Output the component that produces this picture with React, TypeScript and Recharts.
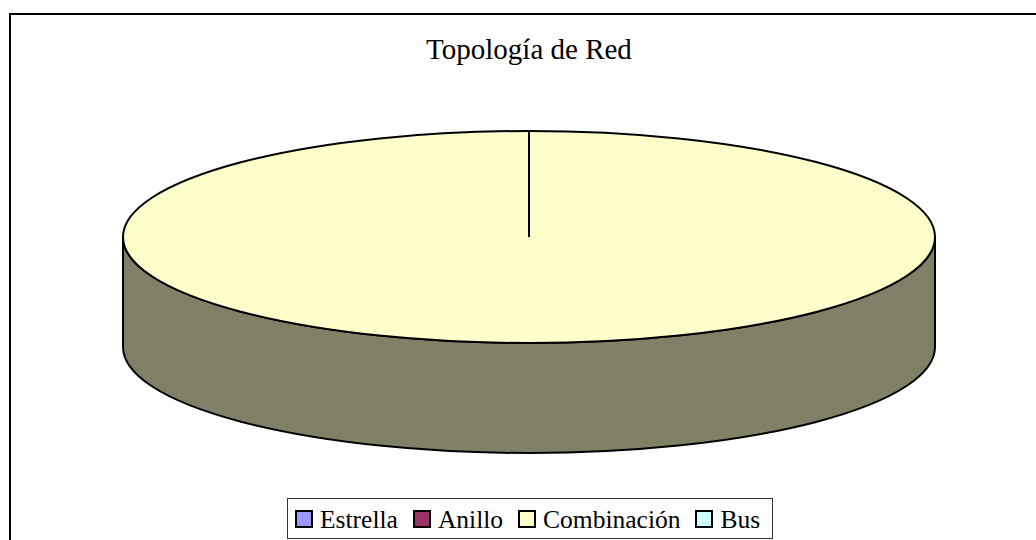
import { PieChart, Pie, Cell, Legend, Tooltip } from 'recharts';

const CATEGORIES = ['Estrella', 'Anillo', 'Combinación', 'Bus'];
const VALUES = [0, 0, 100, 0];
const COLORS = ['#9999ff', '#993366', '#ffffcc', '#ccffff'];

const TITLE = 'Topología de Red';

const data = CATEGORIES.map((name, i) => ({ name, value: VALUES[i] }));

// flattening of the pie and height of its side wall
const TILT = 106 / 406;
const DEPTH = 110;
const FONT = '"Liberation Serif", "Times New Roman", serif';

const darken = (hex: string) => {
  const n = parseInt(hex.slice(1), 16);
  const ch = [(n >> 16) & 255, (n >> 8) & 255, n & 255].map((c) => Math.round(c * 0.5));
  return '#' + ch.map((c) => c.toString(16).padStart(2, '0')).join('');
};

const Slice3D = (props: any) => {
  const { cx, cy, outerRadius, startAngle, endAngle, fill } = props;
  const sweep = Math.abs(endAngle - startAngle);
  if (!sweep || sweep < 0.01) return null;
  const rx = outerRadius;
  const ry = outerRadius * TILT;
  const pt = (deg: number, dy = 0) => {
    const r = (deg * Math.PI) / 180;
    return `${cx + rx * Math.cos(r)},${cy - ry * Math.sin(r) + dy}`;
  };

  // front part of the side wall (angles 180..360)
  const a0 = Math.min(startAngle, endAngle);
  const a1 = Math.max(startAngle, endAngle);
  const walls: string[] = [];
  for (let k = -2; k <= 1; k++) {
    const b0 = Math.max(a0, 180 + 360 * k);
    const b1 = Math.min(a1, 360 + 360 * k);
    if (b1 - b0 > 0.01) {
      walls.push(
        `M${pt(b0)} A${rx},${ry} 0 0 0 ${pt(b1)} L${pt(b1, DEPTH)} A${rx},${ry} 0 0 1 ${pt(b0, DEPTH)} Z`
      );
    }
  }

  const full = sweep >= 359.99;
  const large = sweep > 180 ? 1 : 0;
  const dir = endAngle < startAngle ? 1 : 0;

  return (
    <g>
      {walls.map((d, i) => (
        <path key={i} d={d} fill={darken(fill)} stroke="#000" strokeWidth={2} />
      ))}
      {full ? (
        <>
          <ellipse cx={cx} cy={cy} rx={rx} ry={ry} fill={fill} stroke="#000" strokeWidth={2} />
          <path d={`M${cx},${cy} L${pt(startAngle)}`} stroke="#000" strokeWidth={2} />
        </>
      ) : (
        <path
          d={`M${cx},${cy} L${pt(startAngle)} A${rx},${ry} 0 ${large} ${dir} ${pt(endAngle)} Z`}
          fill={fill}
          stroke="#000"
          strokeWidth={2}
        />
      )}
    </g>
  );
};

const renderLegend = ({ payload }: any) => {
  const items = [...(payload || [])].sort(
    (a: any, b: any) => CATEGORIES.indexOf(a.value) - CATEGORIES.indexOf(b.value)
  );
  return (
    <div
      style={{
        display: 'inline-flex',
        alignItems: 'center',
        boxSizing: 'border-box',
        height: 41,
        padding: '3px 12px 0 7px',
        border: '1px solid #333',
        background: '#fff',
        fontFamily: FONT,
        fontSize: 25.5,
        color: '#000',
        whiteSpace: 'nowrap',
      }}
    >
      {items.map((p: any, i: number) => (
        <span
          key={p.value}
          style={{ display: 'inline-flex', alignItems: 'center', marginRight: i < items.length - 1 ? 15 : 0 }}
        >
          <span
            style={{
              display: 'inline-block',
              width: 14,
              height: 14,
              border: '2px solid #000',
              background: p.color,
              marginRight: 7,
              marginTop: -3,
            }}
          />
          <span>{p.value}</span>
        </span>
      ))}
    </div>
  );
};

export default function App() {
  return (
    <div style={{ position: 'relative', width: 1036, height: 540, overflow: 'hidden', background: '#fff' }}>
      <style>{'body{margin:0}'}</style>
      <div
        style={{
          position: 'absolute',
          left: 9,
          top: 13,
          width: 1100,
          height: 600,
          border: '2px solid #000',
        }}
      />
      <div style={{ position: 'absolute', left: 0, top: 0 }}>
        <PieChart width={1036} height={540} margin={{ top: 0, right: 0, bottom: 0, left: 0 }}>
          <text x={529} y={59} textAnchor="middle" fontFamily={FONT} fontSize={29} fill="#000">
            {TITLE}
          </text>
          <Pie
            data={data}
            dataKey="value"
            nameKey="name"
            cx={529}
            cy={237}
            outerRadius={406}
            startAngle={90}
            endAngle={-270}
            stroke="none"
            label={false}
            labelLine={false}
            isAnimationActive={false}
            shape={Slice3D}
            activeShape={Slice3D}
            inactiveShape={Slice3D}
          >
            {data.map((d, i) => (
              <Cell key={d.name} fill={COLORS[i]} />
            ))}
          </Pie>
          <Tooltip defaultIndex={2} content={() => null} />
          <Legend
            content={renderLegend}
            wrapperStyle={{ left: 287, top: 498, bottom: 'auto', width: 'auto', height: 'auto' }}
          />
        </PieChart>
      </div>
    </div>
  );
}
